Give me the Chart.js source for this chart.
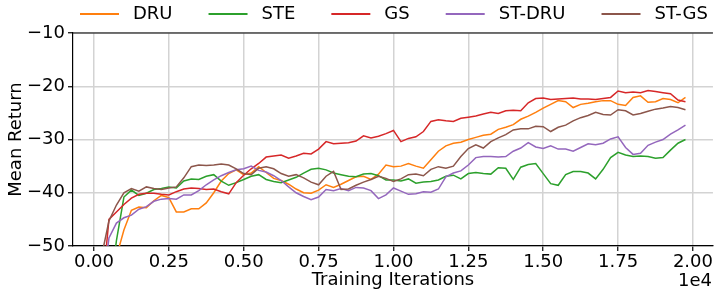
<!DOCTYPE html>
<html>
<head>
<meta charset="utf-8">
<script src="https://cdn.jsdelivr.net/npm/chart.js@4.4.1/dist/chart.umd.min.js"></script>
<style>
  html, body { margin: 0; padding: 0; background: #fff; }
  #wrap { width: 714px; height: 292px; position: relative; }
</style>
</head>
<body>
<div id="wrap"><canvas id="myChart"></canvas></div>
<script>
// training iterations (x)
const iterations = [
  250, 500, 750, 1000, 1250, 1500, 1750, 2000, 2250, 2500,
  2750, 3000, 3250, 3500, 3750, 4000, 4250, 4500, 4750, 5000,
  5250, 5500, 5750, 6000, 6250, 6500, 6750, 7000, 7250, 7500,
  7750, 8000, 8250, 8500, 8750, 9000, 9250, 9500, 9750, 10000,
  10250, 10500, 10750, 11000, 11250, 11500, 11750, 12000, 12250, 12500,
  12750, 13000, 13250, 13500, 13750, 14000, 14250, 14500, 14750, 15000,
  15250, 15500, 15750, 16000, 16250, 16500, 16750, 17000, 17250, 17500,
  17750, 18000, 18250, 18500, 18750, 19000, 19250, 19500, 19750
];
const xTicks = [0, 2500, 5000, 7500, 10000, 12500, 15000, 17500, 20000];
const yTicks = [-50, -40, -30, -20, -10];

const seriesNames = ['DRU', 'STE', 'GS', 'ST-DRU', 'ST-GS'];
const colors = ['#ff7f0e', '#2ca02c', '#d62728', '#9467bd', '#8c564b'];

// mean return per series
const dru = [
  -60, -60, -52, -47, -43.3, -42.7, -42.8, -41.5, -40.5, -40.9,
  -43.6, -43.6, -43, -43, -41.9, -40, -37.8, -36.4, -35.7, -36.6,
  -36.3, -35.1, -36.2, -37.3, -37.7, -38.4, -39.3, -40, -40.1, -39.5,
  -38.5, -39, -38.4, -37.7, -37, -36.9, -37.5, -36.5, -34.8, -35.1,
  -35, -34.5, -35, -35.4, -33.8, -32.2, -31.2, -30.7, -30.5, -30,
  -29.6, -29.2, -29, -28.1, -27.7, -27.2, -26.2, -25.6, -24.9, -24.1,
  -23.4, -22.7, -22.9, -24, -23.4, -23.2, -22.9, -22.7, -22.7, -23.4,
  -23.6, -22.1, -21.8, -23, -22.9, -22.3, -22.5, -23.1, -22.1
];
const ste = [
  -60, -60, -49, -40.8, -39.5, -40.5, -40.1, -39.4, -39.2, -38.9,
  -39.1, -37.8, -37.4, -37.5, -36.9, -36.6, -37.8, -38.6, -38.1, -37.5,
  -36.9, -36.6, -37.5, -37.9, -38.1, -37.6, -37.1, -36.3, -35.6, -35.4,
  -35.7, -36.3, -36.6, -36.9, -37, -36.5, -36.4, -36.8, -37.6, -37.6,
  -37.8, -37.4, -38.2, -38, -37.9, -37.6, -36.9, -36.7, -37.4, -36.4,
  -36.2, -36.4, -36.5, -35.3, -35.4, -37.5, -35.2, -34.7, -34.5, -36.4,
  -38.3, -38.6, -36.6, -36, -36, -36.3, -37.4, -35.6, -33.4, -32.4,
  -32.9, -33.2, -33.1, -33.2, -33.5, -33.4, -32, -30.7, -30
];
const gs = [
  -60, -45, -43.6, -42.2, -41, -40.3, -40.1, -40.1, -40.3, -40.4,
  -39.8, -39.3, -39.1, -39.2, -39.4, -39.3, -39.8, -40.2, -38.1, -36.7,
  -35.5, -34.5, -33.3, -33.1, -32.9, -33.5, -33.1, -32.6, -32.7, -31.8,
  -30.4, -30.8, -30.7, -30.6, -30.3, -29.3, -29.7, -29.4, -28.9, -28.3,
  -30.4, -29.8, -29.5, -28.5, -26.6, -26.3, -26.5, -26.6, -26, -25.8,
  -25.6, -25.2, -24.9, -25.1, -24.6, -24.5, -24.6, -23.1, -22.3, -22.2,
  -22.5, -22.4, -22.3, -22.2, -22.4, -22.4, -22.5, -22.3, -22.1, -20.9,
  -21.2, -21.1, -21.2, -20.8, -21, -21.2, -21.4, -22.6, -22.9
];
const stDru = [
  -60, -48.5, -45.7, -44.7, -44.2, -43.1, -42.6, -41.6, -41.2, -41.1,
  -41.2, -40.4, -40.4, -39.6, -38.5, -37.6, -36.8, -36.2, -35.7, -35.5,
  -35, -35.8, -36.1, -36.8, -37.7, -38.9, -40, -40.7, -41.3, -40.8,
  -39.4, -39.6, -39.2, -39.6, -39, -39.1, -39.6, -41.1, -40.4, -39.1,
  -39.7, -40.3, -40.2, -39.8, -39.9, -39.3, -37, -36.3, -35.9, -34.8,
  -33.4, -33.2, -33.2, -33.3, -33.2, -32.2, -31.6, -30.6, -31.4, -31.7,
  -31.2, -31.8, -31.8, -32.2, -31.5, -30.8, -31, -30.7, -29.9, -29.5,
  -31.5, -32.8, -32.6, -31.1, -30.5, -30, -29, -28.2, -27.3
];
const stGs = [
  -52, -45.3, -42.3, -40, -39.2, -39.7, -38.9, -39.2, -39.4, -39.1,
  -38.9, -37.2, -35.1, -34.8, -34.9, -34.8, -34.6, -34.8, -35.5, -36.4,
  -36.6, -35.4, -35.1, -35.5, -36.4, -36.9, -36.6, -37.2, -38, -38.5,
  -36.9, -36, -39.4, -39.3, -38.6, -38, -37.5, -36.9, -37.3, -37.9,
  -37.4, -36.6, -36.5, -36.8, -35.6, -35.1, -35.4, -35, -33.2, -31.7,
  -31, -31.6, -30.4, -29.7, -29.1, -28.2, -28, -28, -27.5, -27.6,
  -28.5, -27.7, -27.3, -26.5, -25.9, -25.5, -24.9, -25.3, -25.4, -24.4,
  -24.6, -25.4, -25.1, -24.7, -24.3, -24.1, -23.8, -24, -24.4
];

const seriesValues = [dru, ste, gs, stDru, stGs];

Chart.defaults.font.family = '"DejaVu Sans", sans-serif';
Chart.defaults.font.size = 18;
Chart.defaults.color = '#000';

// legend drawn like matplotlib: line sample + label in one row
const lineLegend = {
  id: 'lineLegend',
  afterDraw(chart) {
    const ctx = chart.ctx;
    ctx.save();
    ctx.font = '18px "DejaVu Sans"';
    ctx.textBaseline = 'middle';
    ctx.textAlign = 'left';
    let x = 80;
    const y = 14;
    chart.data.datasets.forEach(ds => {
      ctx.strokeStyle = ds.borderColor;
      ctx.lineWidth = 2;
      ctx.beginPath();
      ctx.moveTo(x, y);
      ctx.lineTo(x + 39, y);
      ctx.stroke();
      ctx.fillStyle = '#000';
      ctx.fillText(ds.label, x + 53, y);
      x += 53 + ctx.measureText(ds.label).width + 36;
    });
    ctx.restore();
  }
};

// top spine and the x offset text
const frameExtras = {
  id: 'frameExtras',
  afterDraw(chart) {
    const ctx = chart.ctx;
    const a = chart.chartArea;
    ctx.save();
    ctx.strokeStyle = '#000';
    ctx.lineWidth = 1.2;
    ctx.beginPath();
    ctx.moveTo(a.left, a.top);
    ctx.lineTo(a.right, a.top);
    ctx.stroke();
    ctx.fillStyle = '#000';
    ctx.font = '18px "DejaVu Sans"';
    ctx.textAlign = 'right';
    ctx.textBaseline = 'middle';
    ctx.fillText('1e4', 712, 281);
    ctx.restore();
  }
};

const datasets = seriesNames.map((name, k) => ({
  label: name,
  data: iterations.map((x, i) => ({ x: x, y: seriesValues[k][i] })),
  borderColor: colors[k],
  backgroundColor: colors[k],
  borderWidth: 1.5,
  pointRadius: 0,
  tension: 0,
  order: seriesNames.length - k
}));

new Chart(document.getElementById('myChart'), {
  type: 'line',
  data: { datasets: datasets },
  plugins: [lineLegend, frameExtras],
  options: {
    responsive: true,
    maintainAspectRatio: false,
    devicePixelRatio: 1,
    animation: false,
    layout: { padding: { top: 33, left: 0, right: 0, bottom: 0 } },
    plugins: {
      legend: { display: false },
      tooltip: { enabled: false }
    },
    scales: {
      x: {
        type: 'linear',
        min: -700,
        max: 20667,
        afterBuildTicks: scale => { scale.ticks = xTicks.map(v => ({ value: v })); },
        ticks: {
          maxRotation: 0,
          autoSkip: false,
          padding: 1,
          callback: v => (v / 1e4).toFixed(2)
        },
        grid: { color: '#d3d3d3', lineWidth: 1.5, tickColor: '#000', tickLength: 5, tickWidth: 1.2 },
        border: { color: '#000', width: 1.2 },
        title: { display: true, text: 'Training Iterations', padding: { top: 0, bottom: 1 } },
        afterFit: scale => { scale.height = 46; }
      },
      y: {
        min: -50,
        max: -10,
        afterBuildTicks: scale => { scale.ticks = yTicks.map(v => ({ value: v })); },
        ticks: {
          padding: 3,
          callback: v => String(v).replace('-', '\u2212')
        },
        grid: { color: '#d3d3d3', lineWidth: 1.5, tickColor: '#000', tickLength: 5, tickWidth: 1.2 },
        border: { color: '#000', width: 1.2 },
        title: { display: true, text: 'Mean Return', padding: { top: 6, bottom: 0 } },
        afterFit: scale => { scale.width = 73; }
      }
    }
  }
});
</script>
</body>
</html>
